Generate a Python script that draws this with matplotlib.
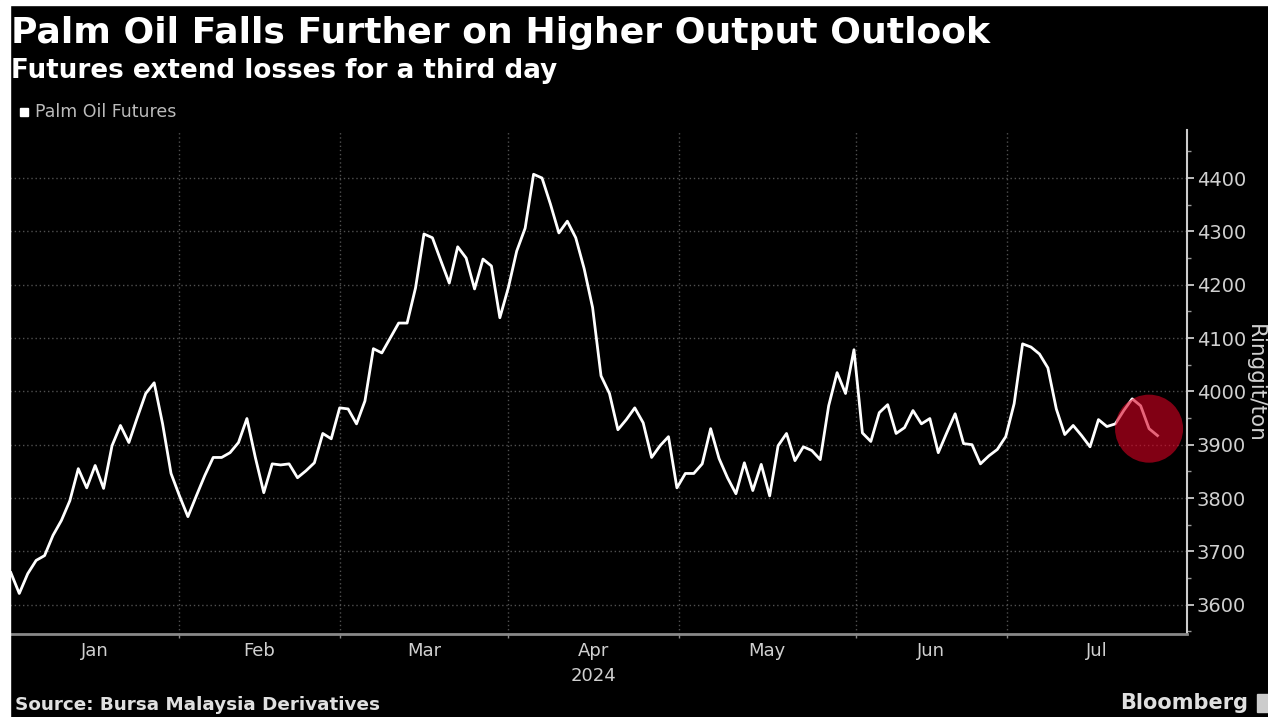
import matplotlib.pyplot as plt
from matplotlib.patches import Rectangle
from matplotlib.ticker import FixedLocator, MultipleLocator

# daily settlement, ringgit per ton (one value per trading day, Jan 2 - mid Jul 2024)
prices = [3660, 3621, 3658, 3683, 3692, 3730, 3758, 3795, 3855, 3819,
          3861, 3818, 3898, 3936, 3904, 3951, 3996, 4016, 3939, 3846,
          3804, 3765, 3804, 3842, 3876, 3876, 3885, 3904, 3949, 3876,
          3810, 3864, 3862, 3864, 3838, 3851, 3866, 3921, 3911, 3969,
          3967, 3939, 3982, 4080, 4072, 4100, 4128, 4128, 4194, 4295,
          4288, 4245, 4203, 4271, 4250, 4192, 4248, 4235, 4138, 4194,
          4263, 4306, 4407, 4400, 4351, 4297, 4319, 4288, 4230, 4157,
          4029, 3996, 3928, 3947, 3969, 3941, 3876, 3898, 3915, 3819,
          3846, 3846, 3864, 3930, 3874, 3838, 3808, 3866, 3814, 3863,
          3804, 3898, 3921, 3870, 3896, 3889, 3872, 3973, 4035, 3996,
          4078, 3922, 3906, 3960, 3975, 3921, 3932, 3964, 3939, 3949,
          3885, 3922, 3958, 3902, 3900, 3864, 3879, 3891, 3915, 3977,
          4089, 4083, 4070, 4044, 3967, 3919, 3936, 3917, 3896, 3947,
          3934, 3939, 3964, 3986, 3973, 3930, 3917]

month_labels = ['Jan', 'Feb', 'Mar', 'Apr\n2024', 'May', 'Jun', 'Jul']
month_starts = [20, 39, 59, 79.2, 100.2, 118.1]   # trading-day index of each month's start
y_ticks = [3600, 3700, 3800, 3900, 4000, 4100, 4200, 4300, 4400]

# last three sessions get the red highlight
highlight_idx = 135
highlight_val = 3930

W, H = 1268, 717
fig = plt.figure(figsize=(W / 100, H / 100), dpi=100, facecolor='black')
# thin white border left and top, as in the screenshot
fig.patches.append(Rectangle((0, 0), 10 / W, 1, transform=fig.transFigure, color='white'))
fig.patches.append(Rectangle((0, 1 - 5 / H), 1, 5 / H, transform=fig.transFigure, color='white'))

ax = fig.add_axes([10 / W, 1 - 634 / H, (1187 - 10) / W, (634 - 130) / H])
ax.set_facecolor('black')

x = list(range(len(prices)))
ax.plot(x, prices, color='white', lw=2, zorder=2)
ax.scatter([highlight_idx], [highlight_val], s=2400, color='#d80022', alpha=0.6,
           edgecolors='none', zorder=3)

xmin, xmax = -0.1, 139.5
ax.set_xlim(xmin, xmax)
ax.set_ylim(3545, 4490)

# y axis on the right
ax.yaxis.tick_right()
ax.yaxis.set_major_locator(FixedLocator(y_ticks))
ax.yaxis.set_minor_locator(MultipleLocator(50))
ax.tick_params(axis='y', which='major', colors='#dddddd', labelcolor='#d0d0d0',
               labelsize=14, length=5, width=1.2, pad=2)
ax.tick_params(axis='y', which='minor', colors='#999999', length=3, width=1)

# x axis: gridlines at month boundaries, labels centred in each month
bounds = [xmin] + month_starts + [xmax]
mids = [(a + b) / 2 for a, b in zip(bounds[:-1], bounds[1:])]
ax.xaxis.set_major_locator(FixedLocator(month_starts))
ax.xaxis.set_minor_locator(FixedLocator(mids))
ax.set_xticklabels([])
ax.set_xticklabels(month_labels, minor=True)
ax.tick_params(axis='x', which='major', colors='#888888', length=3, width=1)
ax.tick_params(axis='x', which='minor', length=0, labelcolor='#d0d0d0',
               labelsize=13, pad=6)
for lab in ax.get_xticklabels(minor=True):
    lab.set_linespacing(1.5)

ax.grid(True, which='major', color='#505050', lw=1, linestyle=(0, (1, 2)))
for side in ['left', 'top']:
    ax.spines[side].set_visible(False)
ax.spines['right'].set_color('#cccccc')
ax.spines['right'].set_linewidth(1.5)
ax.spines['bottom'].set_color('#888888')
ax.spines['bottom'].set_linewidth(2)

fig.text(1255 / W, 1 - 383 / H, 'Ringgit/ton', rotation=270, color='#d0d0d0',
         fontsize=15.5, ha='center', va='center')

# titles and legend
fig.text(11 / W, 1 - 33 / H, 'Palm Oil Falls Further on Higher Output Outlook',
         color='white', fontsize=26, fontweight='bold', va='center')
fig.text(11 / W, 1 - 71 / H, 'Futures extend losses for a third day',
         color='white', fontsize=18.8, fontweight='bold', va='center')
fig.patches.append(Rectangle((20 / W, 1 - 116 / H), 8 / W, 8 / H,
                             transform=fig.transFigure, color='white'))
fig.text(35 / W, 1 - 112 / H, 'Palm Oil Futures', color='#bbbbbb', fontsize=12.5, va='center')

fig.text(15 / W, 1 - 705 / H, 'Source: Bursa Malaysia Derivatives', color='#e0e0e0',
         fontsize=13.2, fontweight='bold', va='center')
fig.text(1120 / W, 1 - 703 / H, 'Bloomberg', color='#e0e0e0', fontsize=15,
         fontweight='semibold', va='center')
fig.patches.append(Rectangle((1257 / W, 1 - 712 / H), 14 / W, 18 / H,
                             transform=fig.transFigure, color='#cccccc'))

fig.savefig('out.png', dpi=100, facecolor=fig.get_facecolor())
